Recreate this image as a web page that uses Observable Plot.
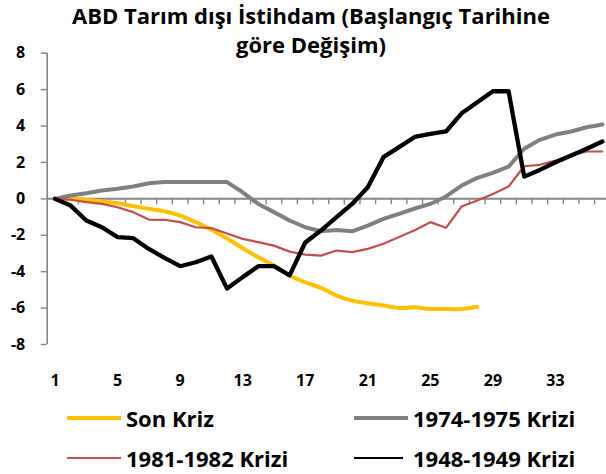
<!DOCTYPE html>
<html><head><meta charset="utf-8">
<script src="https://cdn.jsdelivr.net/npm/d3@7"></script>
<script src="https://cdn.jsdelivr.net/npm/@observablehq/plot@0.6"></script>
<style>
html,body{margin:0;padding:0;background:#fff;}
body{width:606px;height:474px;overflow:hidden;position:relative;font-family:"Open Sans",Lato,sans-serif;color:#000;}
#chart{position:absolute;left:0;top:0;}
#title{position:absolute;top:1px;left:0;width:622px;text-align:center;font-weight:700;font-size:22px;line-height:29px;}
.lg{position:absolute;display:flex;align-items:center;font-weight:700;font-size:22px;white-space:nowrap;}
.sw{display:inline-block;width:54px;margin-right:5px;}
</style></head>
<body>
<div id="chart"></div>
<div id="title">ABD Tarım dışı İstihdam (Başlangıç Tarihine<br>göre Değişim)</div>
<div id="legend"></div>
<script>
const periods = d3.range(1, 37);
const seriesNames = ["Son Kriz", "1974-1975 Krizi", "1981-1982 Krizi", "1948-1949 Krizi"];
const sonKriz = [0,0,-0.05,-0.15,-0.24,-0.4,-0.55,-0.68,-0.92,-1.28,-1.7,-2.18,-2.71,-3.21,-3.66,-4.21,-4.58,-4.89,-5.31,-5.59,-5.73,-5.86,-5.99,-5.96,-6.05,-6.05,-6.05,-5.93];
const kriz7475 = [0,0.18,0.31,0.46,0.55,0.68,0.86,0.93,0.93,0.93,0.93,0.92,0.36,-0.28,-0.73,-1.19,-1.56,-1.78,-1.71,-1.78,-1.47,-1.1,-0.82,-0.53,-0.28,0.13,0.73,1.15,1.43,1.77,2.75,3.24,3.53,3.7,3.93,4.08];
const kriz8182 = [0,-0.05,-0.18,-0.28,-0.46,-0.73,-1.14,-1.15,-1.28,-1.56,-1.61,-1.9,-2.2,-2.38,-2.57,-2.9,-3.06,-3.12,-2.84,-2.93,-2.75,-2.47,-2.1,-1.72,-1.28,-1.59,-0.42,-0.09,0.27,0.68,1.79,1.87,2.1,2.38,2.6,2.6];
const kriz4849 = [0,-0.37,-1.19,-1.56,-2.1,-2.16,-2.75,-3.24,-3.7,-3.48,-3.17,-4.93,-4.3,-3.7,-3.7,-4.2,-2.4,-1.74,-1.0,-0.28,0.64,2.29,2.84,3.4,3.57,3.7,4.7,5.31,5.91,5.91,1.22,1.59,2.01,2.38,2.75,3.15];
const yTicks = [-8,-6,-4,-2,0,2,4,6,8];
const xTicks = [1,5,9,13,17,21,25,29,33];
const colors = ["#FFC000", "#808080", "#C0504D", "#000000"];
const widths = [4, 4, 2.2, 4.3];
const legendSwatch = [{w: 54, h: 4}, {w: 54, h: 4}, {w: 54, h: 2.5}, {w: 49, h: 2.5}];

const allValues = [sonKriz, kriz7475, kriz8182, kriz4849];
const data = allValues.map((vals, k) => vals.map((v, i) => ({period: periods[i], value: v, series: seriesNames[k]})));
const boundaries = d3.range(1.5, 36, 1);

const chart = Plot.plot({
  width: 606, height: 400,
  marginTop: 52.7, marginBottom: 56, marginLeft: 46.7, marginRight: 0,
  x: {domain: [0.5, 36.5], range: [46.7, 609.7]},
  y: {domain: [-8, 8]},
  style: {fontFamily: "'Open Sans', Lato, sans-serif", fontWeight: 700, fontSize: "16px", color: "#000", overflow: "hidden"},
  marks: [
    Plot.ruleX([0.5], {y1: -8, y2: 8, stroke: "#868686", strokeWidth: 1.6}),
    Plot.axisY({ticks: yTicks, tickSize: 6, tickPadding: 16, stroke: "#868686", strokeOpacity: 1, strokeWidth: 1.4, fill: "#000", tickFormat: d => String(d), label: null}),
    Plot.ruleY([0], {x1: 0.5, x2: 36.5, stroke: "#868686", strokeWidth: 2}),
    Plot.ruleX(boundaries, {x: d => d, y1: 0, y2: 0, insetBottom: -6, stroke: "#868686", strokeWidth: 1.4}),
    Plot.axisX({ticks: xTicks, tickSize: 0, tickPadding: 30, fill: "#000", tickFormat: d => String(d), label: null}),
    ...data.map((d, k) => Plot.line(d, {x: "period", y: "value", stroke: colors[k], strokeWidth: widths[k], strokeLinejoin: "round", strokeLinecap: "round", curve: k === 0 ? "catmull-rom" : "linear"}))
  ]
});
document.getElementById("chart").appendChild(chart);

const legendPos = [[67, 418], [354, 418], [67, 458], [354, 458]];
const legend = document.getElementById("legend");
seriesNames.forEach((name, k) => {
  const item = document.createElement("div");
  item.className = "lg";
  item.style.left = legendPos[k][0] + "px";
  item.style.top = (legendPos[k][1] - 15) + "px";
  item.style.height = "30px";
  const sw = document.createElement("span");
  sw.className = "sw";
  sw.style.height = legendSwatch[k].h + "px";
  sw.style.width = legendSwatch[k].w + "px";
  sw.style.marginRight = (k === 3 ? 10 : 5) + "px";
  sw.style.background = colors[k];
  item.appendChild(sw);
  item.appendChild(document.createTextNode(name));
  legend.appendChild(item);
});
</script>
</body></html>
